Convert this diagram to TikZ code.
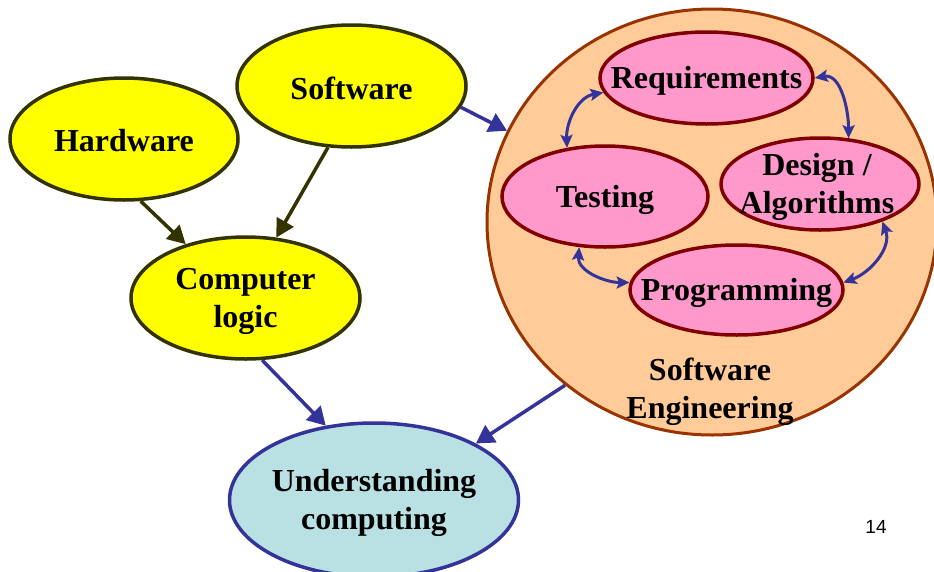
\documentclass[tikz,border=0pt]{standalone}
\usepackage{fontspec}
\setmainfont{Liberation Serif}
\newfontfamily\numfont{Liberation Sans}
\usetikzlibrary{shapes.geometric,arrows.meta}
\definecolor{ylw}{HTML}{FFFF00}
\definecolor{olivedk}{HTML}{333300}
\definecolor{arrowblue}{HTML}{333399}
\definecolor{ucfill}{HTML}{B9E0E3}
\definecolor{sefill}{HTML}{FFCC99}
\definecolor{sedraw}{HTML}{993300}
\definecolor{pinkfill}{HTML}{FF99CC}
\definecolor{pinkdraw}{HTML}{800000}
\begin{document}
\begin{tikzpicture}[x=1pt,y=-1pt,
  lbl/.style={font=\fontsize{32}{38}\selectfont\bfseries, align=center, inner sep=0pt, yshift=-3pt},
  ell/.style={ellipse, inner sep=0pt},
  yell/.style={ell, draw=olivedk, fill=ylw, line width=3.5pt},
  pinkell/.style={ell, draw=pinkdraw, fill=pinkfill, line width=3.5pt},
  dkarrow/.style={draw=olivedk, line width=3.5pt, -{Triangle[length=18pt,width=19pt]}},
  blarrow/.style={draw=arrowblue, line width=3.5pt, -{Triangle[length=18pt,width=20pt]}},
  cyc/.style={draw=arrowblue, line width=3pt, {Stealth[length=13pt,width=12pt,inset=2.5pt]}-{Stealth[length=13pt,width=12pt,inset=2.5pt]}}
]
\useasboundingbox (0,0) rectangle (934,571);
\clip (0,0) rectangle (934,571);

% big Software Engineering circle
\node[ell, draw=sedraw, fill=sefill, line width=3pt, minimum width=450pt, minimum height=426pt] (se) at (712,222) {};
\node[lbl] (selabel) at (710,389) {Software\\Engineering};

% pink ellipses
\node[pinkell, minimum width=213pt, minimum height=92pt, label={[lbl]center:{Requirements}}] (rq) at (706.5,78) {};
\node[pinkell, minimum width=206pt, minimum height=101pt, label={[lbl]center:{Testing}}] (ts) at (605,196.5) {};
\node[pinkell, minimum width=198pt, minimum height=92pt, label={[lbl,xshift=-3pt]center:{Design /\\Algorithms}}] (dz) at (820,184) {};
\node[pinkell, minimum width=213pt, minimum height=90pt, label={[lbl]center:{Programming}}] (pg) at (736.5,290) {};

% yellow ellipses
\node[yell, minimum width=228pt, minimum height=122pt, label={[lbl,yshift=1.5pt]center:{Hardware}}] (hw) at (124,139) {};
\node[yell, minimum width=229pt, minimum height=122pt, label={[lbl,yshift=1pt]center:{Software}}] (sw) at (351.5,86) {};
\node[yell, minimum width=229pt, minimum height=122pt, label={[lbl]center:{Computer\\logic}}] (cl) at (245.5,298) {};

% understanding computing
\node[ell, draw=arrowblue, fill=ucfill, line width=3.5pt, minimum width=289pt, minimum height=154pt, label={[lbl]center:{Understanding\\computing}}] (uc) at (374,500) {};

% page number
\node[font=\numfont\fontsize{19}{22}\selectfont, inner sep=0pt] (pnum) at (876,527) {14};

% connectors
\draw[dkarrow] (hw.-75) -- (cl.138);
\draw[dkarrow] (sw.-111) -- (cl.63);
\draw[blarrow] (sw.-11) -- (se.156);
\draw[blarrow] (cl.-75) -- (uc.123);
\draw[blarrow] (se.-132) -- (uc.29);

% cycle
\draw[cyc] (ts.128) to[out=92,in=190] (rq.-172);
\draw[cyc] (rq.0) to[out=10,in=90] (dz.58);
\draw[cyc] (dz.-31) to[out=-70,in=20] (pg.4);
\draw[cyc] (ts.-117) to[out=-95,in=180] (pg.176);
\end{tikzpicture}
\end{document}
